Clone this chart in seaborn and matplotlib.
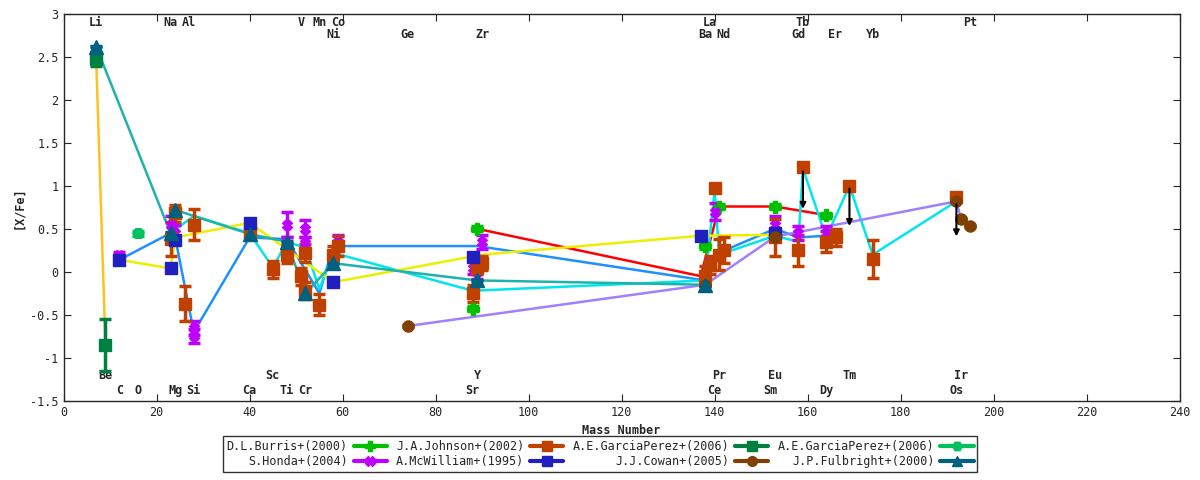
import numpy as np
import pandas as pd
import matplotlib
matplotlib.use("Agg")
import matplotlib.pyplot as plt
from matplotlib.lines import Line2D
import seaborn as sns

# (mass, [X/Fe], error) per dataset
burris_m = [88, 89, 138, 141, 153, 164]
burris_v = [-0.43, 0.50, 0.30, 0.76, 0.76, 0.66]
burris_e = [0.03, 0.03, 0.03, 0.03, 0.03, 0.03]
burris_line_m = [89, 137, 141, 153, 164]
burris_line_v = [0.50, -0.05, 0.76, 0.76, 0.66]

honda_m = [12, 23, 24, 28, 28, 48, 48, 52, 52, 59, 88, 89, 90, 138, 139, 140, 153, 158, 164]
honda_v = [0.20, 0.55, 0.45, -0.65, -0.75, 0.55, 0.30, 0.50, 0.33, 0.35, 0.05, 0.00, 0.35, -0.05, 0.10, 0.70, 0.55, 0.45, 0.45]
honda_e = [0.03, 0.1, 0.1, 0.08, 0.08, 0.15, 0.1, 0.1, 0.08, 0.08, 0.08, 0.08, 0.08, 0.05, 0.05, 0.1, 0.1, 0.08, 0.08]
honda_line_m = [12, 23, 24, 28, 40, 48, 55, 58, 89, 138, 140, 153, 158, 164]
honda_line_v = [0.14, 0.45, 0.40, -0.70, 0.40, 0.38, -0.25, 0.30, 0.30, -0.10, 0.20, 0.50, 0.40, 0.42]

johnson_m = [23, 24, 26, 28, 40, 45, 48, 51, 52, 52, 55, 58, 59, 88, 89, 90, 138, 139, 140, 141, 142, 153, 158, 159, 164, 166, 169, 174, 192]
johnson_v = [0.38, 0.68, -0.37, 0.55, 0.45, 0.03, 0.20, -0.05, 0.22, -0.22, -0.38, 0.20, 0.30, -0.25, 0.05, 0.10, -0.05, 0.08, 0.98, 0.20, 0.25, 0.40, 0.25, 1.22, 0.35, 0.40, 1.00, 0.15, 0.87]
johnson_e = [0.2, 0.1, 0.2, 0.18, 0.05, 0.1, 0.1, 0.1, 0.1, 0.1, 0.12, 0.1, 0.12, 0.1, 0.08, 0.08, 0.12, 0.1, 0.01, 0.18, 0.15, 0.22, 0.18, 0.01, 0.12, 0.1, 0.01, 0.22, 0.01]
johnson_line_m = [23, 28, 40, 45, 48, 52, 55, 58, 88, 138, 140, 141, 153, 158, 159, 164, 169, 174, 192]
johnson_line_v = [0.45, 0.65, 0.45, 0.05, 0.35, 0.28, -0.20, 0.22, -0.22, -0.10, 0.95, 0.20, 0.42, 0.35, 1.20, 0.40, 1.00, 0.20, 0.82]

mcw_m = [12, 23, 24, 40, 58, 88, 137, 153]
mcw_v = [0.14, 0.04, 0.37, 0.57, -0.12, 0.17, 0.42, 0.45]
mcw_line_m = [12, 23, 24, 40, 58, 90, 137, 153]
mcw_line_v = [0.14, 0.04, 0.40, 0.57, -0.12, 0.20, 0.42, 0.43]

gp1_m = [7, 9]
gp1_v = [2.48, -0.85]
gp1_e = [0.08, 0.3]

gp2_m = [16]
gp2_v = [0.45]
gp2_e = [0.03]

cowan_m = [74, 138, 153, 192, 193, 195]
cowan_v = [-0.63, -0.15, 0.41, 0.82, 0.62, 0.53]

fulb_m = [7, 23, 24, 40, 48, 52, 58, 89, 138]
fulb_v = [2.62, 0.45, 0.72, 0.44, 0.35, -0.25, 0.10, -0.10, -0.15]

limits_m = [159, 169, 192]
limits_top = [1.20, 1.00, 0.82]
limits_bot = [0.70, 0.50, 0.38]

top_labels = [("Li", 7, 1), ("Na", 23, 1), ("Al", 27, 1), ("V", 51, 1), ("Mn", 55, 1), ("Co", 59, 1),
              ("La", 139, 1), ("Tb", 159, 1), ("Pt", 195, 1),
              ("Ni", 58, 2), ("Ge", 74, 2), ("Zr", 90, 2), ("Ba", 138, 2), ("Nd", 142, 2),
              ("Gd", 158, 2), ("Er", 166, 2), ("Yb", 174, 2)]
bot_labels = [("Be", 9, 1), ("Sc", 45, 1), ("Y", 89, 1), ("Pr", 141, 1), ("Eu", 153, 1), ("Tm", 169, 1), ("Ir", 193, 1),
              ("C", 12, 2), ("O", 16, 2), ("Mg", 24, 2), ("Si", 28, 2), ("Ca", 40, 2), ("Ti", 48, 2), ("Cr", 52, 2),
              ("Sr", 88, 2), ("Ce", 140, 2), ("Sm", 152, 2), ("Dy", 164, 2), ("Os", 192, 2)]

sns.set_style("ticks")
plt.rcParams['font.family'] = ['DejaVu Sans Mono']
plt.rcParams['font.size'] = 8.5

fig = plt.figure(figsize=(12, 4.8), dpi=100)
ax = fig.add_axes([0.053, 0.165, 0.930, 0.806])


def conn(m, v, color):
    sns.lineplot(x=m, y=v, ax=ax, color=color, lw=1.8, estimator=None, sort=False, zorder=2)


conn(burris_line_m, burris_line_v, "#ff0000")
conn(honda_line_m, honda_line_v, "#1e90ff")
conn(johnson_line_m, johnson_line_v, "#00e5ee")
conn(mcw_line_m, mcw_line_v, "#eeee00")
conn(gp1_m, gp1_v, "#ffc020")
conn(cowan_m, cowan_v, "#a080ff")
conn(fulb_m, fulb_v, "#20b2aa")

kw = dict(capsize=4, elinewidth=2.5, capthick=2.5, zorder=4, ls="none")
series = [
    ("D.L.Burris+(2000)", burris_m, burris_v, burris_e, "#00c000", "P", 9),
    ("S.Honda+(2004)", honda_m, honda_v, honda_e, "#c000ff", "X", 7),
    ("J.A.Johnson+(2002)", johnson_m, johnson_v, johnson_e, "#c04000", "s", 8),
    ("A.McWilliam+(1995)", mcw_m, mcw_v, [0.01] * len(mcw_m), "#2020c0", "s", 9),
    ("A.E.GarciaPerez+(2006)", gp1_m, gp1_v, gp1_e, "#008040", "s", 8),
    ("J.J.Cowan+(2005)", cowan_m, cowan_v, [0.01] * len(cowan_m), "#804000", "o", 8),
    ("A.E.GarciaPerez+(2006)", gp2_m, gp2_v, gp2_e, "#00c060", "H", 8),
    ("J.P.Fulbright+(2000)", fulb_m, fulb_v, [0.01] * len(fulb_m), "#006080", "^", 10),
]
proxies, labels = [], []
for name, m, v, e, c, mk, ms in series:
    ax.errorbar(m, v, yerr=e, color=c, marker=mk, ms=ms, **kw)
    proxies.append(Line2D([0], [0], color=c, lw=3, marker=mk, ms=7))
    labels.append(name)

for m, t, b in zip(limits_m, limits_top, limits_bot):
    ax.annotate("", xy=(m, b), xytext=(m, t),
                arrowprops=dict(arrowstyle="-|>", color="black", lw=1.5), zorder=5)

for name, m, row in top_labels:
    ax.text(m, 2.9 if row == 1 else 2.76, name, ha="center", va="center", fontweight="bold")
for name, m, row in bot_labels:
    ax.text(m, -1.21 if row == 1 else -1.38, name, ha="center", va="center", fontweight="bold")

ax.set_xlim(0, 240)
ax.set_ylim(-1.5, 3)
ax.set_xticks(np.arange(0, 241, 20))
ax.set_yticks(np.arange(-1.5, 3.01, 0.5))
ax.set_yticklabels(["-1.5", "-1", "-0.5", "0", "0.5", "1", "1.5", "2", "2.5", "3"])
ax.tick_params(direction="in", top=True, right=True, length=5)
ax.set_xlabel("Mass Number", fontweight="bold")
ax.set_ylabel("[X/Fe]", fontweight="bold")
for s in ax.spines.values():
    s.set_linewidth(1)

leg = fig.legend(proxies, labels, ncol=4,
                 loc="lower center", bbox_to_anchor=(0.5, 0.005), markerfirst=False,
                 frameon=True, fancybox=False, edgecolor="black", fontsize=8.5,
                 handlelength=2.8, columnspacing=0.8, borderpad=0.3, labelspacing=0.2,
                 handletextpad=0.5)
leg.get_frame().set_linewidth(1)
for t in leg.get_texts():
    t.set_ha("right")

fig.savefig("out.png", dpi=100)
